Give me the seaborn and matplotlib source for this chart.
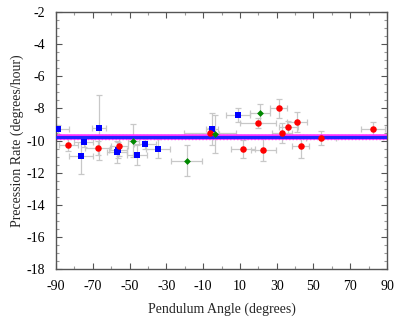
import numpy as np
import pandas as pd
import matplotlib
matplotlib.use("Agg")
import matplotlib.pyplot as plt
from matplotlib.ticker import MultipleLocator, FixedLocator
import seaborn as sns

# Blue series (squares)
blue_x = [-89.0, -76.5, -75.0, -66.6, -56.8, -56.2, -46.0, -41.6, -34.5, -5.3, 9.0]
blue_y = [-9.30, -10.95, -10.10, -9.19, -10.70, -10.60, -10.90, -10.20, -10.50, -9.29, -8.42]
blue_xerr = [6.0, 6.6, 5.3, 3.6, 5.6, 5.0, 5.4, 6.0, 6.5, 3.4, 6.3]
blue_yerr = [0.3, 1.1, 0.3, 2.0, 0.7, 0.5, 0.6, 0.3, 0.6, 1.0, 0.45]

# Red series (circles)
red_x = [-83.3, -67.2, -55.6, -6.3, 11.7, 19.8, 22.7, 31.1, 32.7, 36.2, 41.2, 43.1, 54.3, 82.2]
red_y = [-10.25, -10.46, -10.35, -9.50, -10.52, -8.90, -10.56, -8.00, -9.54, -9.17, -8.85, -10.36, -9.85, -9.27]
red_xerr = [5.0, 6.8, 4.5, 14.0, 6.3, 10.0, 6.8, 4.5, 5.4, 5.2, 5.4, 4.7, 8.2, 6.5]
red_yerr = [0.4, 0.45, 0.6, 0.3, 0.57, 0.3, 0.73, 0.62, 0.62, 0.4, 0.6, 0.73, 0.42, 0.45]

# Green series (diamonds)
green_x = [-48.0, -18.9, -3.5, 20.9]
green_y = [-10.00, -11.25, -9.60, -8.30]
green_xerr = [3.0, 8.3, 2.0, 5.4]
green_yerr = [1.04, 0.95, 1.2, 0.6]

mean_rate = -9.78
band = 0.15

sns.set_style("ticks")
plt.rcParams['font.family'] = ['Liberation Serif', 'DejaVu Serif']
plt.rcParams['axes.unicode_minus'] = False

fig = plt.figure(figsize=(4.15, 3.27), dpi=100)
ax = fig.add_axes([0.135, 0.177, 0.7975, 0.786])

err_kw = dict(fmt='none', ecolor='#c8c8c8', elinewidth=0.9, capsize=2, capthick=0.9, zorder=1)
ax.errorbar(blue_x, blue_y, xerr=blue_xerr, yerr=blue_yerr, **err_kw)
ax.errorbar(red_x, red_y, xerr=red_xerr, yerr=red_yerr, **err_kw)
ax.errorbar(green_x, green_y, xerr=green_xerr, yerr=green_yerr, **err_kw)

ax.axhline(mean_rate, color='#ff33ff', lw=4.0, zorder=2)
ax.axhline(mean_rate, color='#2222ff', lw=2.2, zorder=3)
ax.axhline(mean_rate + band, color='#ff33ff', lw=1.0, ls=(0, (1, 1.5)), zorder=2)
ax.axhline(mean_rate - band, color='#ff33ff', lw=1.0, ls=(0, (1, 1.5)), zorder=2)

df_b = pd.DataFrame({'x': blue_x, 'y': blue_y})
df_r = pd.DataFrame({'x': red_x, 'y': red_y})
df_g = pd.DataFrame({'x': green_x, 'y': green_y})
sns.scatterplot(data=df_b, x='x', y='y', ax=ax, marker='s', s=20, color='#0000ff', edgecolor='#0000ff', linewidth=0, zorder=4)
sns.scatterplot(data=df_r, x='x', y='y', ax=ax, marker='o', s=22, color='#ff0000', edgecolor='#ff0000', linewidth=0, zorder=4)
sns.scatterplot(data=df_g, x='x', y='y', ax=ax, marker='D', s=12, color='#008800', edgecolor='#008800', linewidth=0, zorder=4)

ax.set_xlim(-90, 90)
ax.set_ylim(-18, -2)
ax.xaxis.set_major_locator(FixedLocator(list(range(-90, 91, 20))))
ax.xaxis.set_minor_locator(FixedLocator(list(range(-80, 81, 20))))
ax.yaxis.set_major_locator(MultipleLocator(2))
ax.yaxis.set_minor_locator(MultipleLocator(0.5))

for s in ax.spines.values():
    s.set_visible(True)
    s.set_color('#555555')
    s.set_linewidth(1.0)

ax.tick_params(which='both', direction='in', top=True, right=True, colors='#555555', labelcolor='black', labelsize=10)
ax.tick_params(which='major', length=4, width=0.8, pad=8)
ax.tick_params(which='minor', length=2.5, width=0.8, colors='#999999')

ax.set_xlabel('Pendulum Angle (degrees)', fontsize=10, labelpad=7)
ax.set_ylabel('Precession Rate (degrees/hour)', fontsize=10, labelpad=2)

fig.savefig('out.png', dpi=100)
